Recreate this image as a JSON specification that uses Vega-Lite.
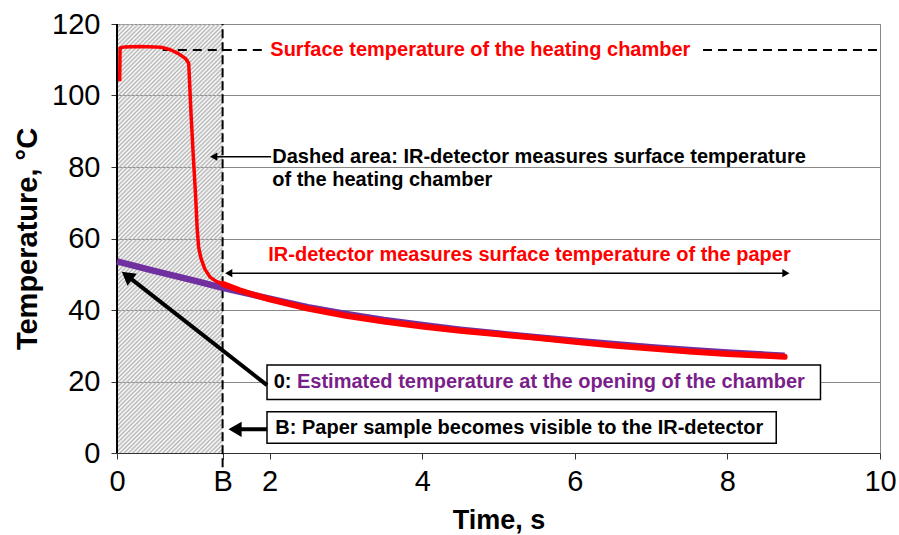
{
"$schema": "https://vega.github.io/schema/vega-lite/v6.json",
"width": 763, "height": 429,
"autosize": {"type": "none"},
"padding": {"left": 117, "top": 24, "right": 19, "bottom": 82},
"background": "white",
"config": {"font": "Liberation Sans", "view": {"stroke": "#888", "strokeWidth": 1}},
"datasets": {
"curves": [
{"s":"chamber","x":0.035,"y":104},{"s":"chamber","x":0.04,"y":113.3},{"s":"chamber","x":0.1,"y":113.6},{"s":"chamber","x":0.3,"y":113.7},{"s":"chamber","x":0.5,"y":113.6},{"s":"chamber","x":0.6,"y":113.4},{"s":"chamber","x":0.7,"y":112.8},{"s":"chamber","x":0.8,"y":111.8},{"s":"chamber","x":0.9,"y":110.3},{"s":"chamber","x":0.94,"y":109},{"s":"chamber","x":0.97,"y":95},{"s":"chamber","x":1.0,"y":83},{"s":"chamber","x":1.03,"y":72},{"s":"chamber","x":1.05,"y":63},{"s":"chamber","x":1.07,"y":57.5},{"s":"chamber","x":1.1,"y":54.5},{"s":"chamber","x":1.15,"y":51.5},{"s":"chamber","x":1.22,"y":49.2},{"s":"chamber","x":1.3,"y":48},{"s":"chamber","x":1.384,"y":47.3},
{"s":"paper","x":1.384,"y":47.3},{"s":"paper","x":1.6,"y":45.6},{"s":"paper","x":1.8,"y":44.2},{"s":"paper","x":2.0,"y":43.0},{"s":"paper","x":2.5,"y":40.4},{"s":"paper","x":3.0,"y":38.4},{"s":"paper","x":3.5,"y":36.8},{"s":"paper","x":4.0,"y":35.4},{"s":"paper","x":4.5,"y":34.2},{"s":"paper","x":5.0,"y":33.2},{"s":"paper","x":5.5,"y":32.2},{"s":"paper","x":6.0,"y":31.1},{"s":"paper","x":6.5,"y":30.1},{"s":"paper","x":7.0,"y":29.2},{"s":"paper","x":7.5,"y":28.4},{"s":"paper","x":8.0,"y":27.7},{"s":"paper","x":8.5,"y":27.2},{"s":"paper","x":8.75,"y":26.9},
{"s":"est","x":0,"y":53.6},{"s":"est","x":0.5,"y":50.9},{"s":"est","x":1.0,"y":48.3},{"s":"est","x":1.384,"y":46.2},{"s":"est","x":2.0,"y":43.2},{"s":"est","x":2.5,"y":40.8},{"s":"est","x":3.0,"y":38.9},{"s":"est","x":3.5,"y":37.2},{"s":"est","x":4.0,"y":35.8},{"s":"est","x":4.5,"y":34.5},{"s":"est","x":5.0,"y":33.4},{"s":"est","x":5.5,"y":32.4},{"s":"est","x":6.0,"y":31.4},{"s":"est","x":6.5,"y":30.5},{"s":"est","x":7.0,"y":29.6},{"s":"est","x":7.5,"y":28.8},{"s":"est","x":8.0,"y":28.1},{"s":"est","x":8.5,"y":27.5},{"s":"est","x":8.75,"y":27.2}
]
},
"encoding": {
"x": {"field": "x", "type": "quantitative", "scale": {"domain": [0, 10], "nice": false, "zero": false},
 "axis": {"title": "Time, s", "values": [0, 1.384, 2, 4, 6, 8, 10],
  "labelExpr": "datum.value > 1 && datum.value < 1.5 ? 'B' : format(datum.value, 'd')",
  "grid": false, "domainColor": "#333", "tickColor": "#333", "tickSize": 6,
  "labelFontSize": 29, "labelColor": "#000", "labelPadding": 8, "labelFlush": false, "labelOverlap": false,
  "titleFontSize": 27, "titleFontWeight": "bold", "titleColor": "#000", "titlePadding": 11}},
"y": {"field": "y", "type": "quantitative", "scale": {"domain": [0, 120], "nice": false, "zero": false},
 "axis": {"title": "Temperature, °C", "values": [0, 20, 40, 60, 80, 100, 120],
  "grid": true, "gridColor": "#888", "gridWidth": 1, "domain": false, "tickColor": "#333", "tickSize": 6,
  "labelFontSize": 29, "labelColor": "#000", "labelPadding": 11, "labelFlush": false,
  "titleFontSize": 29, "titleFontWeight": "bold", "titleColor": "#000", "titlePadding": 9}}
},
"layer": [
{"data": {"values": [{"x": 0, "x2": 1.384, "y": 0, "y2": 120}]},
 "mark": {"type": "rect", "strokeWidth": 0, "fill": {"gradient": "linear", "x1": 0, "y1": 0, "x2": 0.2893, "y2": 1.175, "stops": [
{"offset":0,"color":"#b4b4b4"},{"offset":0.004,"color":"rgba(180,180,180,0)"},{"offset":0.008,"color":"#b4b4b4"},{"offset":0.012,"color":"rgba(180,180,180,0)"},{"offset":0.016,"color":"#b4b4b4"},{"offset":0.02,"color":"rgba(180,180,180,0)"},{"offset":0.024,"color":"#b4b4b4"},{"offset":0.028,"color":"rgba(180,180,180,0)"},{"offset":0.032,"color":"#b4b4b4"},{"offset":0.036,"color":"rgba(180,180,180,0)"},{"offset":0.04,"color":"#b4b4b4"},{"offset":0.044,"color":"rgba(180,180,180,0)"},{"offset":0.048,"color":"#b4b4b4"},{"offset":0.052,"color":"rgba(180,180,180,0)"},{"offset":0.056,"color":"#b4b4b4"},{"offset":0.06,"color":"rgba(180,180,180,0)"},{"offset":0.064,"color":"#b4b4b4"},{"offset":0.068,"color":"rgba(180,180,180,0)"},{"offset":0.072,"color":"#b4b4b4"},{"offset":0.076,"color":"rgba(180,180,180,0)"},{"offset":0.08,"color":"#b4b4b4"},{"offset":0.084,"color":"rgba(180,180,180,0)"},{"offset":0.088,"color":"#b4b4b4"},{"offset":0.092,"color":"rgba(180,180,180,0)"},{"offset":0.096,"color":"#b4b4b4"},{"offset":0.1,"color":"rgba(180,180,180,0)"},{"offset":0.104,"color":"#b4b4b4"},{"offset":0.108,"color":"rgba(180,180,180,0)"},{"offset":0.112,"color":"#b4b4b4"},{"offset":0.116,"color":"rgba(180,180,180,0)"},{"offset":0.12,"color":"#b4b4b4"},{"offset":0.124,"color":"rgba(180,180,180,0)"},{"offset":0.128,"color":"#b4b4b4"},{"offset":0.132,"color":"rgba(180,180,180,0)"},{"offset":0.136,"color":"#b4b4b4"},{"offset":0.14,"color":"rgba(180,180,180,0)"},{"offset":0.144,"color":"#b4b4b4"},{"offset":0.148,"color":"rgba(180,180,180,0)"},{"offset":0.152,"color":"#b4b4b4"},{"offset":0.156,"color":"rgba(180,180,180,0)"},{"offset":0.16,"color":"#b4b4b4"},{"offset":0.164,"color":"rgba(180,180,180,0)"},{"offset":0.168,"color":"#b4b4b4"},{"offset":0.172,"color":"rgba(180,180,180,0)"},{"offset":0.176,"color":"#b4b4b4"},{"offset":0.18,"color":"rgba(180,180,180,0)"},{"offset":0.184,"color":"#b4b4b4"},{"offset":0.188,"color":"rgba(180,180,180,0)"},{"offset":0.192,"color":"#b4b4b4"},{"offset":0.196,"color":"rgba(180,180,180,0)"},
{"offset":0.2,"color":"#b4b4b4"},{"offset":0.204,"color":"rgba(180,180,180,0)"},{"offset":0.208,"color":"#b4b4b4"},{"offset":0.212,"color":"rgba(180,180,180,0)"},{"offset":0.216,"color":"#b4b4b4"},{"offset":0.22,"color":"rgba(180,180,180,0)"},{"offset":0.224,"color":"#b4b4b4"},{"offset":0.228,"color":"rgba(180,180,180,0)"},{"offset":0.232,"color":"#b4b4b4"},{"offset":0.236,"color":"rgba(180,180,180,0)"},{"offset":0.24,"color":"#b4b4b4"},{"offset":0.244,"color":"rgba(180,180,180,0)"},{"offset":0.248,"color":"#b4b4b4"},{"offset":0.252,"color":"rgba(180,180,180,0)"},{"offset":0.256,"color":"#b4b4b4"},{"offset":0.26,"color":"rgba(180,180,180,0)"},{"offset":0.264,"color":"#b4b4b4"},{"offset":0.268,"color":"rgba(180,180,180,0)"},{"offset":0.272,"color":"#b4b4b4"},{"offset":0.276,"color":"rgba(180,180,180,0)"},{"offset":0.28,"color":"#b4b4b4"},{"offset":0.284,"color":"rgba(180,180,180,0)"},{"offset":0.288,"color":"#b4b4b4"},{"offset":0.292,"color":"rgba(180,180,180,0)"},{"offset":0.296,"color":"#b4b4b4"},{"offset":0.3,"color":"rgba(180,180,180,0)"},{"offset":0.304,"color":"#b4b4b4"},{"offset":0.308,"color":"rgba(180,180,180,0)"},{"offset":0.312,"color":"#b4b4b4"},{"offset":0.316,"color":"rgba(180,180,180,0)"},{"offset":0.32,"color":"#b4b4b4"},{"offset":0.324,"color":"rgba(180,180,180,0)"},{"offset":0.328,"color":"#b4b4b4"},{"offset":0.332,"color":"rgba(180,180,180,0)"},{"offset":0.336,"color":"#b4b4b4"},{"offset":0.34,"color":"rgba(180,180,180,0)"},{"offset":0.344,"color":"#b4b4b4"},{"offset":0.348,"color":"rgba(180,180,180,0)"},{"offset":0.352,"color":"#b4b4b4"},{"offset":0.356,"color":"rgba(180,180,180,0)"},{"offset":0.36,"color":"#b4b4b4"},{"offset":0.364,"color":"rgba(180,180,180,0)"},{"offset":0.368,"color":"#b4b4b4"},{"offset":0.372,"color":"rgba(180,180,180,0)"},{"offset":0.376,"color":"#b4b4b4"},{"offset":0.38,"color":"rgba(180,180,180,0)"},{"offset":0.384,"color":"#b4b4b4"},{"offset":0.388,"color":"rgba(180,180,180,0)"},{"offset":0.392,"color":"#b4b4b4"},{"offset":0.396,"color":"rgba(180,180,180,0)"},
{"offset":0.4,"color":"#b4b4b4"},{"offset":0.404,"color":"rgba(180,180,180,0)"},{"offset":0.408,"color":"#b4b4b4"},{"offset":0.412,"color":"rgba(180,180,180,0)"},{"offset":0.416,"color":"#b4b4b4"},{"offset":0.42,"color":"rgba(180,180,180,0)"},{"offset":0.424,"color":"#b4b4b4"},{"offset":0.428,"color":"rgba(180,180,180,0)"},{"offset":0.432,"color":"#b4b4b4"},{"offset":0.436,"color":"rgba(180,180,180,0)"},{"offset":0.44,"color":"#b4b4b4"},{"offset":0.444,"color":"rgba(180,180,180,0)"},{"offset":0.448,"color":"#b4b4b4"},{"offset":0.452,"color":"rgba(180,180,180,0)"},{"offset":0.456,"color":"#b4b4b4"},{"offset":0.46,"color":"rgba(180,180,180,0)"},{"offset":0.464,"color":"#b4b4b4"},{"offset":0.468,"color":"rgba(180,180,180,0)"},{"offset":0.472,"color":"#b4b4b4"},{"offset":0.476,"color":"rgba(180,180,180,0)"},{"offset":0.48,"color":"#b4b4b4"},{"offset":0.484,"color":"rgba(180,180,180,0)"},{"offset":0.488,"color":"#b4b4b4"},{"offset":0.492,"color":"rgba(180,180,180,0)"},{"offset":0.496,"color":"#b4b4b4"},{"offset":0.5,"color":"rgba(180,180,180,0)"},{"offset":0.504,"color":"#b4b4b4"},{"offset":0.508,"color":"rgba(180,180,180,0)"},{"offset":0.512,"color":"#b4b4b4"},{"offset":0.516,"color":"rgba(180,180,180,0)"},{"offset":0.52,"color":"#b4b4b4"},{"offset":0.524,"color":"rgba(180,180,180,0)"},{"offset":0.528,"color":"#b4b4b4"},{"offset":0.532,"color":"rgba(180,180,180,0)"},{"offset":0.536,"color":"#b4b4b4"},{"offset":0.54,"color":"rgba(180,180,180,0)"},{"offset":0.544,"color":"#b4b4b4"},{"offset":0.548,"color":"rgba(180,180,180,0)"},{"offset":0.552,"color":"#b4b4b4"},{"offset":0.556,"color":"rgba(180,180,180,0)"},{"offset":0.56,"color":"#b4b4b4"},{"offset":0.564,"color":"rgba(180,180,180,0)"},{"offset":0.568,"color":"#b4b4b4"},{"offset":0.572,"color":"rgba(180,180,180,0)"},{"offset":0.576,"color":"#b4b4b4"},{"offset":0.58,"color":"rgba(180,180,180,0)"},{"offset":0.584,"color":"#b4b4b4"},{"offset":0.588,"color":"rgba(180,180,180,0)"},{"offset":0.592,"color":"#b4b4b4"},{"offset":0.596,"color":"rgba(180,180,180,0)"},
{"offset":0.6,"color":"#b4b4b4"},{"offset":0.604,"color":"rgba(180,180,180,0)"},{"offset":0.608,"color":"#b4b4b4"},{"offset":0.612,"color":"rgba(180,180,180,0)"},{"offset":0.616,"color":"#b4b4b4"},{"offset":0.62,"color":"rgba(180,180,180,0)"},{"offset":0.624,"color":"#b4b4b4"},{"offset":0.628,"color":"rgba(180,180,180,0)"},{"offset":0.632,"color":"#b4b4b4"},{"offset":0.636,"color":"rgba(180,180,180,0)"},{"offset":0.64,"color":"#b4b4b4"},{"offset":0.644,"color":"rgba(180,180,180,0)"},{"offset":0.648,"color":"#b4b4b4"},{"offset":0.652,"color":"rgba(180,180,180,0)"},{"offset":0.656,"color":"#b4b4b4"},{"offset":0.66,"color":"rgba(180,180,180,0)"},{"offset":0.664,"color":"#b4b4b4"},{"offset":0.668,"color":"rgba(180,180,180,0)"},{"offset":0.672,"color":"#b4b4b4"},{"offset":0.676,"color":"rgba(180,180,180,0)"},{"offset":0.68,"color":"#b4b4b4"},{"offset":0.684,"color":"rgba(180,180,180,0)"},{"offset":0.688,"color":"#b4b4b4"},{"offset":0.692,"color":"rgba(180,180,180,0)"},{"offset":0.696,"color":"#b4b4b4"},{"offset":0.7,"color":"rgba(180,180,180,0)"},{"offset":0.704,"color":"#b4b4b4"},{"offset":0.708,"color":"rgba(180,180,180,0)"},{"offset":0.712,"color":"#b4b4b4"},{"offset":0.716,"color":"rgba(180,180,180,0)"},{"offset":0.72,"color":"#b4b4b4"},{"offset":0.724,"color":"rgba(180,180,180,0)"},{"offset":0.728,"color":"#b4b4b4"},{"offset":0.732,"color":"rgba(180,180,180,0)"},{"offset":0.736,"color":"#b4b4b4"},{"offset":0.74,"color":"rgba(180,180,180,0)"},{"offset":0.744,"color":"#b4b4b4"},{"offset":0.748,"color":"rgba(180,180,180,0)"},{"offset":0.752,"color":"#b4b4b4"},{"offset":0.756,"color":"rgba(180,180,180,0)"},{"offset":0.76,"color":"#b4b4b4"},{"offset":0.764,"color":"rgba(180,180,180,0)"},{"offset":0.768,"color":"#b4b4b4"},{"offset":0.772,"color":"rgba(180,180,180,0)"},{"offset":0.776,"color":"#b4b4b4"},{"offset":0.78,"color":"rgba(180,180,180,0)"},{"offset":0.784,"color":"#b4b4b4"},{"offset":0.788,"color":"rgba(180,180,180,0)"},{"offset":0.792,"color":"#b4b4b4"},{"offset":0.796,"color":"rgba(180,180,180,0)"},
{"offset":0.8,"color":"#b4b4b4"},{"offset":0.804,"color":"rgba(180,180,180,0)"},{"offset":0.808,"color":"#b4b4b4"},{"offset":0.812,"color":"rgba(180,180,180,0)"},{"offset":0.816,"color":"#b4b4b4"},{"offset":0.82,"color":"rgba(180,180,180,0)"},{"offset":0.824,"color":"#b4b4b4"},{"offset":0.828,"color":"rgba(180,180,180,0)"},{"offset":0.832,"color":"#b4b4b4"},{"offset":0.836,"color":"rgba(180,180,180,0)"},{"offset":0.84,"color":"#b4b4b4"},{"offset":0.844,"color":"rgba(180,180,180,0)"},{"offset":0.848,"color":"#b4b4b4"},{"offset":0.852,"color":"rgba(180,180,180,0)"},{"offset":0.856,"color":"#b4b4b4"},{"offset":0.86,"color":"rgba(180,180,180,0)"},{"offset":0.864,"color":"#b4b4b4"},{"offset":0.868,"color":"rgba(180,180,180,0)"},{"offset":0.872,"color":"#b4b4b4"},{"offset":0.876,"color":"rgba(180,180,180,0)"},{"offset":0.88,"color":"#b4b4b4"},{"offset":0.884,"color":"rgba(180,180,180,0)"},{"offset":0.888,"color":"#b4b4b4"},{"offset":0.892,"color":"rgba(180,180,180,0)"},{"offset":0.896,"color":"#b4b4b4"},{"offset":0.9,"color":"rgba(180,180,180,0)"},{"offset":0.904,"color":"#b4b4b4"},{"offset":0.908,"color":"rgba(180,180,180,0)"},{"offset":0.912,"color":"#b4b4b4"},{"offset":0.916,"color":"rgba(180,180,180,0)"},{"offset":0.92,"color":"#b4b4b4"},{"offset":0.924,"color":"rgba(180,180,180,0)"},{"offset":0.928,"color":"#b4b4b4"},{"offset":0.932,"color":"rgba(180,180,180,0)"},{"offset":0.936,"color":"#b4b4b4"},{"offset":0.94,"color":"rgba(180,180,180,0)"},{"offset":0.944,"color":"#b4b4b4"},{"offset":0.948,"color":"rgba(180,180,180,0)"},{"offset":0.952,"color":"#b4b4b4"},{"offset":0.956,"color":"rgba(180,180,180,0)"},{"offset":0.96,"color":"#b4b4b4"},{"offset":0.964,"color":"rgba(180,180,180,0)"},{"offset":0.968,"color":"#b4b4b4"},{"offset":0.972,"color":"rgba(180,180,180,0)"},{"offset":0.976,"color":"#b4b4b4"},{"offset":0.98,"color":"rgba(180,180,180,0)"},{"offset":0.984,"color":"#b4b4b4"},{"offset":0.988,"color":"rgba(180,180,180,0)"},{"offset":0.992,"color":"#b4b4b4"},{"offset":0.996,"color":"rgba(180,180,180,0)"},{"offset":1,"color":"#b4b4b4"}
 ]}},
 "encoding": {"x2": {"field": "x2"}, "y2": {"field": "y2"}}},
{"data": {"values": [{"x": 0, "y": 0, "y2": 120}]},
 "mark": {"type": "rule", "color": "#000", "strokeWidth": 2},
 "encoding": {"y2": {"field": "y2"}}},
{"data": {"values": [{"x": 1.384, "y": -4, "y2": 120}]},
 "mark": {"type": "rule", "color": "#000", "strokeWidth": 2, "strokeDash": [9, 4]},
 "encoding": {"y2": {"field": "y2"}}},
{"data": {"values": [{"x": 0.6, "x2": 1.94, "y": 112.7}, {"x": 7.68, "x2": 10, "y": 112.7}]},
 "mark": {"type": "rule", "color": "#000", "strokeWidth": 2, "strokeDash": [9, 6]},
 "encoding": {"x2": {"field": "x2"}}},
{"data": {"name": "curves"}, "transform": [{"filter": "datum.s == 'est'"}],
 "mark": {"type": "line", "color": "#7030a0", "strokeWidth": 6.5}},
{"data": {"name": "curves"}, "transform": [{"filter": "datum.s == 'chamber'"}],
 "mark": {"type": "line", "color": "#ff0000", "strokeWidth": 3.5, "strokeJoin": "round"}},
{"data": {"name": "curves"}, "transform": [{"filter": "datum.s == 'paper'"}],
 "mark": {"type": "line", "color": "#ff0000", "strokeWidth": 6, "strokeCap": "round", "strokeJoin": "round"}},
{"data": {"values": [{"x": 4.762, "y": 112.7, "t": "Surface temperature of the heating chamber"}]},
 "mark": {"type": "text", "color": "#ff0000", "fontSize": 20, "fontWeight": "bold", "align": "center", "baseline": "middle"},
 "encoding": {"text": {"field": "t"}}},
{"data": {"values": [{"x": 1.983, "y": 55.3, "t": "IR-detector measures surface temperature of the paper"}]},
 "mark": {"type": "text", "color": "#ff0000", "fontSize": 20, "fontWeight": "bold", "align": "left", "baseline": "middle"},
 "encoding": {"text": {"field": "t"}}},
{"data": {"values": [{"x": 2.035, "y": 82.9, "t": "Dashed area: IR-detector measures surface temperature"}, {"x": 2.035, "y": 76.4, "t": "of the heating chamber"}]},
 "mark": {"type": "text", "color": "#000", "fontSize": 20, "fontWeight": "bold", "align": "left", "baseline": "middle"},
 "encoding": {"text": {"field": "t"}}},
{"data": {"values": [{"x": 1.267, "x2": 2.02, "y": 82.9}, {"x": 1.464, "x2": 8.767, "y": 50.3}]},
 "mark": {"type": "rule", "color": "#000", "strokeWidth": 1.5},
 "encoding": {"x2": {"field": "x2"}}},
{"data": {"values": [{"x": 1.267, "y": 82.9}, {"x": 1.464, "y": 50.3}]},
 "mark": {"type": "point", "shape": "triangle-up", "angle": 270, "size": 70, "filled": true, "color": "#000", "opacity": 1}},
{"data": {"values": [{"x": 8.767, "y": 50.3}]},
 "mark": {"type": "point", "shape": "triangle-up", "angle": 90, "size": 70, "filled": true, "color": "#000", "opacity": 1}},
{"data": {"values": [{"x": 1.966, "x2": 9.22, "y": 15.0, "y2": 24.6}, {"x": 1.966, "x2": 8.64, "y": 2.7, "y2": 11.55}]},
 "mark": {"type": "rect", "fill": "#fff", "stroke": "#000", "strokeWidth": 1.5},
 "encoding": {"x2": {"field": "x2"}, "y2": {"field": "y2"}}},
{"data": {"values": [{"x": 2.053, "y": 19.8, "t": "0:"}, {"x": 2.075, "y": 7.1, "t": "B: Paper sample becomes visible to the IR-detector"}]},
 "mark": {"type": "text", "color": "#000", "fontSize": 20, "fontWeight": "bold", "align": "left", "baseline": "middle"},
 "encoding": {"text": {"field": "t"}}},
{"data": {"values": [{"x": 2.359, "y": 19.8, "t": "Estimated temperature at the opening of the chamber"}]},
 "mark": {"type": "text", "color": "#7a1f8a", "fontSize": 20, "fontWeight": "bold", "align": "left", "baseline": "middle"},
 "encoding": {"text": {"field": "t"}}},
{"data": {"values": [{"x": 1.966, "y": 19.0, "x2": 0.131, "y2": 49.6}, {"x": 1.966, "y": 6.63, "x2": 1.547, "y2": 6.63}]},
 "mark": {"type": "rule", "color": "#000", "strokeWidth": 4},
 "encoding": {"x2": {"field": "x2"}, "y2": {"field": "y2"}}},
{"data": {"values": [{"x": 0.131, "y": 49.6}]},
 "mark": {"type": "point", "shape": "triangle-up", "angle": 308, "size": 230, "filled": true, "color": "#000", "opacity": 1}},
{"data": {"values": [{"x": 1.547, "y": 6.63}]},
 "mark": {"type": "point", "shape": "triangle-up", "angle": 270, "size": 230, "filled": true, "color": "#000", "opacity": 1}}
]
}
